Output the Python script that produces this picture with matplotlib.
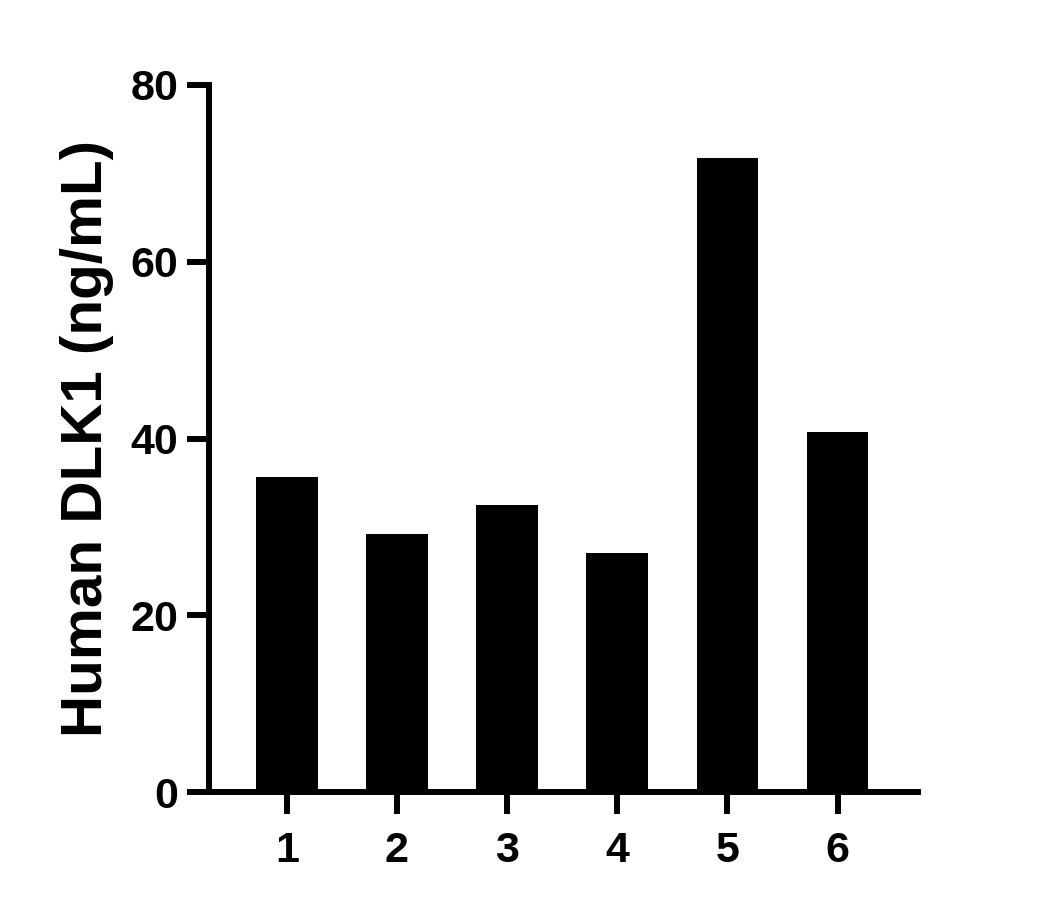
import matplotlib
matplotlib.use('Agg')
import matplotlib.pyplot as plt

# datos
muestras = ['1', '2', '3', '4', '5', '6']
dlk1 = [35.7, 29.2, 32.5, 27.0, 71.7, 40.7]
y_ticks = [0, 20, 40, 60, 80]

plt.rcParams['font.family'] = ['Liberation Sans', 'DejaVu Sans']
plt.rcParams['font.weight'] = 'bold'

fig = plt.figure(figsize=(10.51, 9.09), dpi=100)
ax = fig.add_axes([0.1985, 0.1287, 0.675, 0.7778])

x = list(range(1, len(muestras) + 1))
ax.bar(x, dlk1, width=0.56, color='black', edgecolor='none')

ax.set_xlim(0.29, 6.73)
ax.set_ylim(0, 80)
ax.set_xticks(x)
ax.set_xticklabels(muestras)
ax.set_yticks(y_ticks)

# estilo de ejes
for lado in ['top', 'right']:
    ax.spines[lado].set_visible(False)
for lado in ['left', 'bottom']:
    ax.spines[lado].set_linewidth(4.3)
    ax.spines[lado].set_capstyle('projecting')
ax.tick_params(axis='both', length=16, width=4.3, labelsize=31)
ax.tick_params(axis='y', pad=6)
ax.tick_params(axis='x', pad=12)
for lbl in ax.get_xticklabels() + ax.get_yticklabels():
    lbl.set_fontweight('bold')

ax.set_ylabel('Human DLK1 (ng/mL)', fontsize=42, fontweight='bold', labelpad=12)

fig.savefig('out.png', dpi=100)
